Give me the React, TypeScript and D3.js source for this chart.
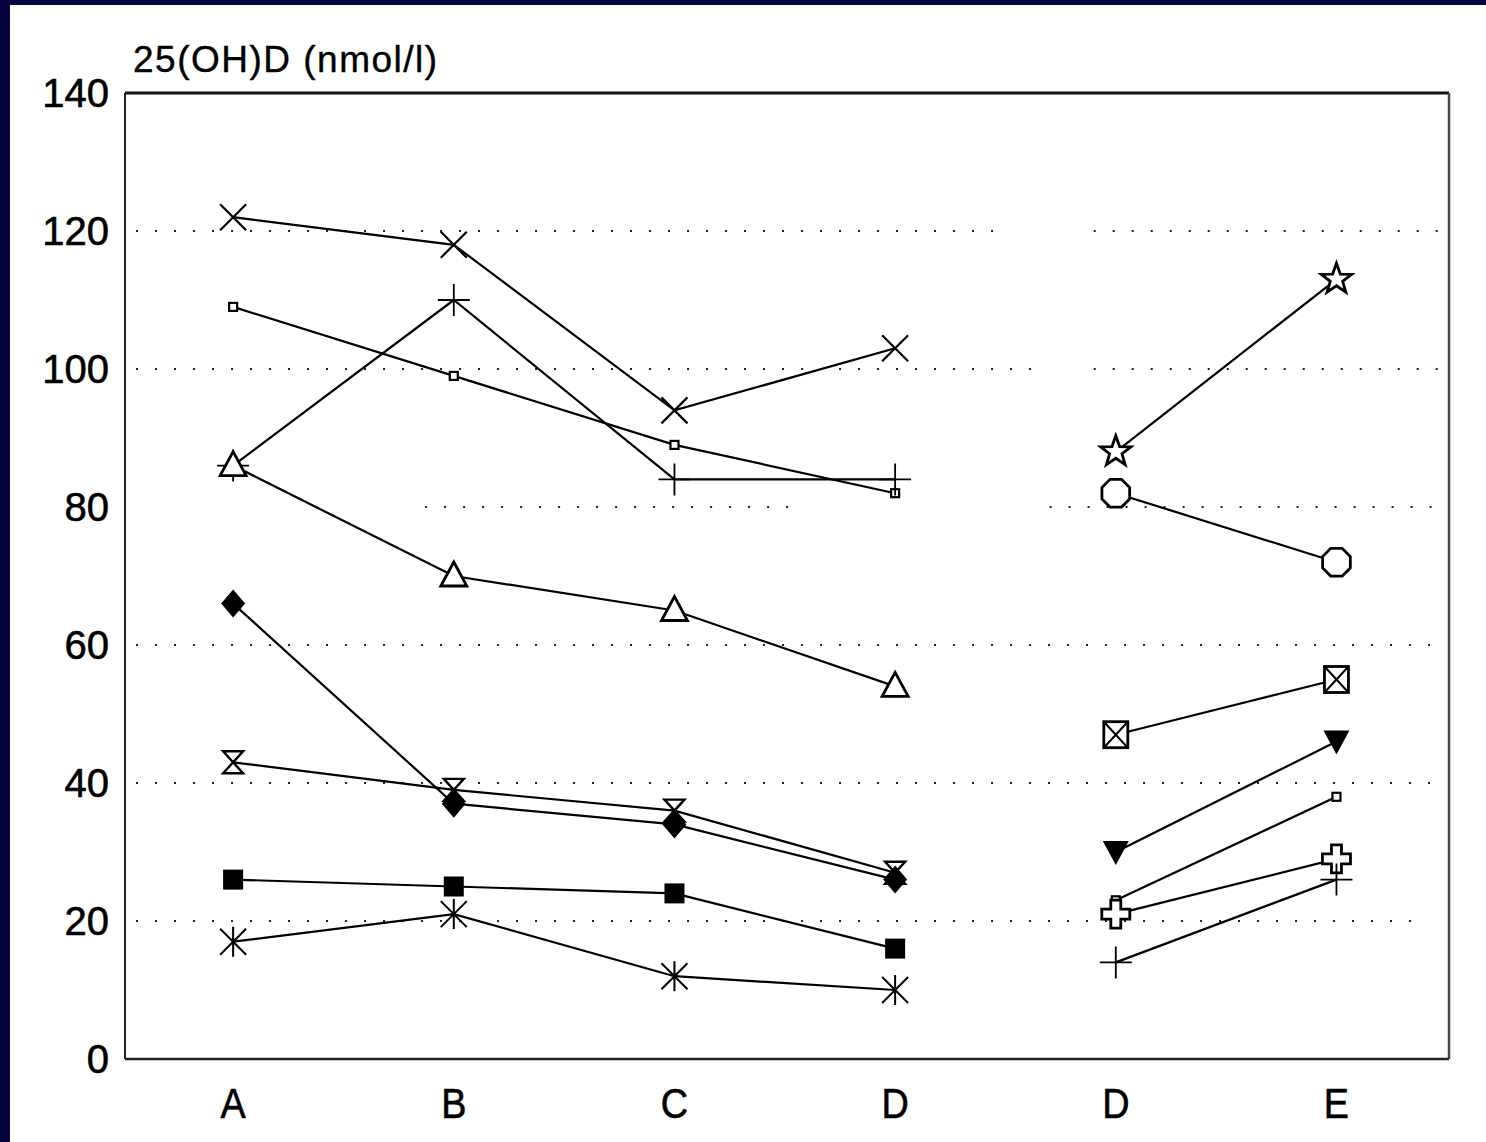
import React from "react";
import * as d3 from "d3";

// Category positions along the x axis (two panels: A–D, then D–E)
const categories = ["A", "B", "C", "D", "D", "E"];
const yTicks = [0, 20, 40, 60, 80, 100, 120, 140];
const gridValues = [20, 40, 60, 80, 100, 120];

// First panel: four visits A, B, C, D
const crossSeries = [122, 118, 94, 103];
const smallSquareSeries = [109, 99, 89, 82];
const plusSeries = [86, 110, 84, 84];
const openTriangleSeries = [86, 70, 65, 54];
const diamondSeries = [66, 37, 34, 26];
const hourglassSeries = [43, 39, 36, 27];
const filledSquareSeries = [26, 25, 24, 16];
const asteriskSeries = [17, 21, 12, 10];

// Second panel: visits D and E
const starSeries = [88, 113];
const octagonSeries = [82, 72];
const boxedCrossSeries = [47, 55];
const downTriangleSeries = [30, 46];
const smallSquareSeries2 = [23, 38];
const heavyCrossSeries = [21, 29];
const thinPlusSeries = [14, 26];

type SeriesDef = { values: number[]; start: number; marker: string };

const series: SeriesDef[] = [
  { values: crossSeries, start: 0, marker: "x" },
  { values: smallSquareSeries, start: 0, marker: "smallSquare" },
  { values: plusSeries, start: 0, marker: "plus" },
  { values: openTriangleSeries, start: 0, marker: "openTriangle" },
  { values: hourglassSeries, start: 0, marker: "hourglass" },
  { values: diamondSeries, start: 0, marker: "diamond" },
  { values: filledSquareSeries, start: 0, marker: "filledSquare" },
  { values: asteriskSeries, start: 0, marker: "asterisk" },
  { values: starSeries, start: 4, marker: "star" },
  { values: octagonSeries, start: 4, marker: "octagon" },
  { values: boxedCrossSeries, start: 4, marker: "boxedCross" },
  { values: downTriangleSeries, start: 4, marker: "downTriangle" },
  { values: smallSquareSeries2, start: 4, marker: "smallSquare" },
  { values: heavyCrossSeries, start: 4, marker: "heavyCross" },
  { values: thinPlusSeries, start: 4, marker: "plus" },
];

const W = 1486;
const H = 1142;
const plot = { left: 125, right: 1449, top: 93, bottom: 1059 };

const x = d3.scaleLinear().domain([-0.49, 5.51]).range([plot.left, plot.right]);
const y = d3.scaleLinear().domain([0, 140]).range([plot.bottom, plot.top]);

const FONT = "'Liberation Sans', Arial, Helvetica, sans-serif";
const NAVY = "#05033f";

function starPath(R: number, r: number) {
  const pts: [number, number][] = [];
  for (let i = 0; i < 10; i++) {
    const a = -Math.PI / 2 + (i * Math.PI) / 5;
    const rad = i % 2 === 0 ? R : r;
    pts.push([rad * Math.cos(a), rad * Math.sin(a)]);
  }
  return "M" + pts.map((p) => p.join(",")).join("L") + "Z";
}

function octagonPath(R: number) {
  const pts: [number, number][] = [];
  for (let i = 0; i < 8; i++) {
    const a = Math.PI / 8 + (i * Math.PI) / 4;
    pts.push([R * Math.cos(a), R * Math.sin(a)]);
  }
  return "M" + pts.map((p) => p.join(",")).join("L") + "Z";
}

function heavyCrossPath(L: number, w: number) {
  return `M${-w},${-L}H${w}V${-w}H${L}V${w}H${w}V${L}H${-w}V${w}H${-L}V${-w}H${-w}Z`;
}

function Marker({ type, cx, cy }: { type: string; cx: number; cy: number }) {
  const t = `translate(${cx},${cy})`;
  const k = "#000";
  switch (type) {
    case "x":
      return <path transform={t} d="M-13,-13L13,13M-13,13L13,-13" stroke={k} strokeWidth={2.2} fill="none" />;
    case "smallSquare":
      return <rect transform={t} x={-4} y={-4} width={8} height={8} fill="#fff" stroke={k} strokeWidth={2.2} />;
    case "plus":
      return <path transform={t} d="M-16,0H16M0,-16V16" stroke={k} strokeWidth={1.8} fill="none" />;
    case "openTriangle":
      return <path transform={t} d="M0,-14L13,10H-13Z" fill="#fff" stroke={k} strokeWidth={2.8} />;
    case "hourglass":
      return <path transform={t} d="M-10,-11H10L-10,11H10Z" fill="#fff" stroke={k} strokeWidth={2.4} />;
    case "diamond":
      return <path transform={t} d="M0,-14L12,0L0,14L-12,0Z" fill={k} />;
    case "filledSquare":
      return <rect transform={t} x={-10} y={-10} width={20} height={20} fill={k} />;
    case "asterisk":
      return (
        <path transform={t} d="M-13,-13L13,13M-13,13L13,-13M0,-15V15" stroke={k} strokeWidth={2} fill="none" />
      );
    case "star":
      return <path transform={t} d={starPath(16, 6.5)} fill="#fff" stroke={k} strokeWidth={2.8} />;
    case "octagon":
      return <path transform={t} d={octagonPath(15)} fill="#fff" stroke={k} strokeWidth={2.8} />;
    case "boxedCross":
      return (
        <g transform={t}>
          <rect x={-12} y={-13} width={24} height={26} fill="#fff" stroke={k} strokeWidth={2.8} />
          <path d="M-12,-13L12,13M-12,13L12,-13" stroke={k} strokeWidth={2} />
        </g>
      );
    case "downTriangle":
      return <path transform={t} d="M-13,-11H13L0,13Z" fill={k} />;
    case "heavyCross":
      return <path transform={t} d={heavyCrossPath(14, 5)} fill="#fff" stroke={k} strokeWidth={2.8} />;
    default:
      return null;
  }
}

// Dotted gridline spans, in category-index units, per grid value
const gridSpans: Record<number, [number, number][]> = {
  120: [[-0.44, 3.5], [3.9, 5.46]],
  100: [[-0.44, 3.63], [3.9, 5.46]],
  80: [[0.87, 2.52], [3.7, 5.46]],
  60: [[-0.44, 5.46]],
  40: [[-0.44, 5.46]],
  20: [[-0.44, 5.35]],
};

export default function App() {
  const line = d3
    .line<[number, number]>()
    .x((d) => x(d[0]))
    .y((d) => y(d[1]));

  const textStyle = { fontFamily: FONT, fill: "#000", stroke: "#000", strokeWidth: 0.6 };

  return (
    <svg
      width={W}
      height={H}
      viewBox={`0 0 ${W} ${H}`}
      style={{ position: "absolute", left: 0, top: 0, display: "block" }}
    >
      <rect x={0} y={0} width={W} height={H} fill="#fff" />
      <rect x={0} y={0} width={10} height={H} fill={NAVY} />
      <rect x={0} y={0} width={W} height={5} fill={NAVY} />

      {/* dotted gridlines */}
      {gridValues.map((v) =>
        (gridSpans[v] || []).map((s, i) => (
          <line
            key={`${v}-${i}`}
            x1={x(s[0])}
            x2={x(s[1])}
            y1={y(v)}
            y2={y(v)}
            stroke="#222"
            strokeWidth={2}
            strokeDasharray="2,17"
          />
        ))
      )}

      {/* frame */}
      <line x1={plot.left} x2={plot.right} y1={plot.top} y2={plot.top} stroke="#111" strokeWidth={3} />
      <line x1={plot.left} x2={plot.right} y1={plot.bottom} y2={plot.bottom} stroke="#222" strokeWidth={2.5} />
      <line x1={plot.left} x2={plot.left} y1={plot.top} y2={plot.bottom} stroke="#222" strokeWidth={2} />
      <line x1={plot.right} x2={plot.right} y1={plot.top} y2={plot.bottom} stroke="#444" strokeWidth={2.5} />

      {/* y tick labels */}
      {yTicks.map((v) => (
        <text key={v} x={109} y={y(v)} dy="0.36em" textAnchor="end" fontSize={40} {...textStyle}>
          {v}
        </text>
      ))}

      <text x={133} y={72} fontSize={37} letterSpacing={1.5} {...textStyle} strokeWidth={0.4}>
        25(OH)D (nmol/l)
      </text>

      {/* x category labels */}
      {categories.map((c, i) => (
        <g key={i} transform={`translate(${x(i)},1118) scale(0.9,1)`}>
          <text x={0} y={0} textAnchor="middle" fontSize={42} {...textStyle}>
            {c}
          </text>
        </g>
      ))}

      {/* series lines */}
      {series.map((s, si) => (
        <path
          key={`l${si}`}
          d={line(s.values.map((v, i) => [s.start + i, v]))!}
          fill="none"
          stroke="#000"
          strokeWidth={2.2}
        />
      ))}

      {/* markers */}
      {series.map((s, si) =>
        s.values.map((v, i) => (
          <Marker key={`m${si}-${i}`} type={s.marker} cx={x(s.start + i)} cy={y(v)} />
        ))
      )}
    </svg>
  );
}
